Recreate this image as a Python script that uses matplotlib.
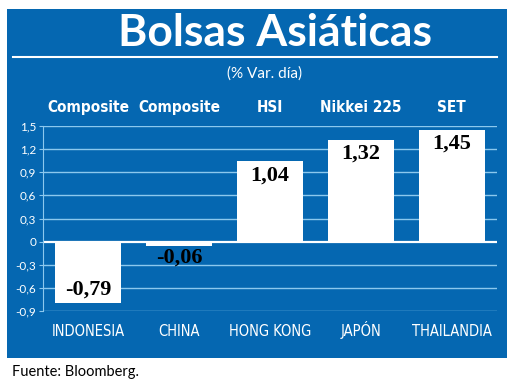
import matplotlib.pyplot as plt
from matplotlib.patches import Rectangle

# datos
paises = ["INDONESIA", "CHINA", "HONG KONG", "JAPÓN", "THAILANDIA"]
indices = ["Composite", "Composite", "HSI", "Nikkei 225", "SET"]
variacion = [-0.79, -0.06, 1.04, 1.32, 1.45]
ticks_y = [1.5, 1.2, 0.9, 0.6, 0.3, 0, -0.3, -0.6, -0.9]
etiquetas_y = ["1,5", "1,2", "0,9", "0,6", "0,3", "0", "-0,3", "-0,6", "-0,9"]

azul = "#0567b1"
celeste = "#8cc8ee"
W, H = 520, 392

fig = plt.figure(figsize=(5.2, 3.92), dpi=100)
fig.patch.set_facecolor("white")

# panel azul de fondo
fig.patches.append(Rectangle((7 / W, 1 - 358 / H), 500 / W, 349 / H,
                             transform=fig.transFigure, facecolor=azul,
                             edgecolor="none", zorder=-5))

# título y línea
fig.text(275 / W, 1 - 33 / H, "Bolsas Asiáticas", color="white", fontsize=32,
         fontweight="bold", family="Lato", ha="center", va="center")
fig.add_artist(plt.Line2D([13 / W, 497 / W], [1 - 57 / H, 1 - 57 / H],
                          transform=fig.transFigure, color="white", lw=1.5))
fig.text(265 / W, 1 - 74 / H, "(% Var. día)", color="white", fontsize=11,
         family="Lato", ha="center", va="center")

ax = fig.add_axes([43 / W, 1 - 311 / H, 454 / W, 185 / H])
ax.set_facecolor("none")
x = range(len(paises))
ax.bar(x, variacion, width=0.725, color="white", zorder=3)
ax.set_xlim(-0.5, 4.5)
ax.set_ylim(-0.9, 1.5)
ax.set_yticks(ticks_y)
ax.set_yticklabels(etiquetas_y, color="white", fontsize=8.5, family="Lato")
ax.tick_params(axis="y", length=3, color=celeste, pad=2)
ax.set_xticks([])
for y in ticks_y:
    ax.axhline(y, color="white" if y == 0 else celeste,
               lw=1.6 if y == 0 else 1, zorder=1)
for s in ["top", "right", "bottom"]:
    ax.spines[s].set_visible(False)
ax.spines["left"].set_color(celeste)

# valores sobre las barras
for i, v in enumerate(variacion):
    txt = f"{v:.2f}".replace(".", ",")
    if v > 0:
        off, va = -3, "top"
    elif v < -0.3:
        off, va = 2, "bottom"
    else:
        off, va = -1, "top"
    ax.annotate(txt, (i, v), xytext=(0, off), textcoords="offset points",
                ha="center", va=va, fontsize=16, fontweight="bold",
                family="Liberation Serif", zorder=4)

# nombres de índices arriba y países abajo
for i in x:
    ax.text(i, 1.68, indices[i], ha="center", va="baseline", color="white",
            fontsize=11, fontweight="bold", family="DejaVu Sans",
            fontstretch="condensed")
    ax.annotate(paises[i], (i, -0.9), xytext=(0, -18), textcoords="offset points",
                ha="center", va="baseline", color="white", fontsize=10.5,
                family="DejaVu Sans", fontstretch="condensed")

fig.text(12 / W, 1 - 372 / H, "Fuente: Bloomberg.", color="black", fontsize=10.5,
         family="Lato", ha="left", va="center")

fig.savefig("out.png", dpi=100)
